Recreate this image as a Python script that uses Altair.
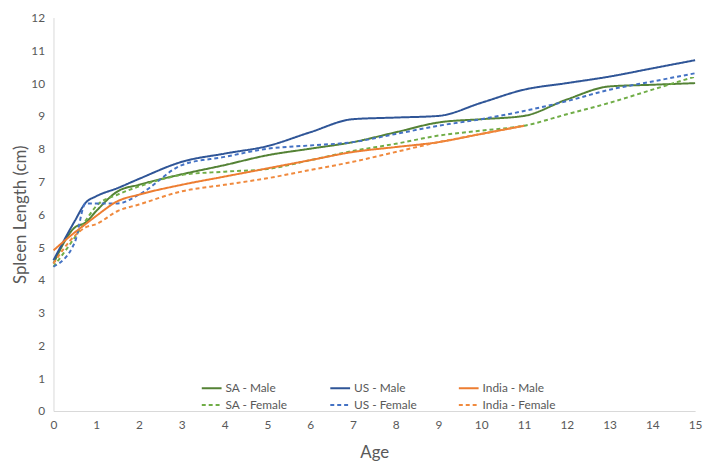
import altair as alt
import pandas as pd

ages = [0, 0.5, 0.75, 1, 1.5, 2, 3, 4, 5, 6, 7, 8, 9, 10, 11, 12, 13, 14, 15]

sa_male = [4.5, 5.6, 5.75, 6.1, 6.7, 6.9, 7.22, 7.5, 7.8, 8.0, 8.2, 8.5, 8.8, 8.9, 9.0, 9.5, 9.9, 9.95, 10.0]
sa_female = [4.4, 5.3, 5.8, 6.25, 6.6, 6.85, 7.2, 7.3, 7.38, 7.65, 7.93, 8.15, 8.4, 8.55, 8.7, 9.05, 9.4, 9.8, 10.2]
us_male = [4.6, 5.8, 6.35, 6.55, 6.8, 7.08, 7.6, 7.85, 8.08, 8.5, 8.9, 8.95, 9.0, 9.4, 9.8, 10.0, 10.2, 10.45, 10.7]
us_female = [4.4, 5.15, 6.33, 6.33, 6.33, 6.6, 7.5, 7.75, 8.0, 8.1, 8.2, 8.45, 8.7, 8.9, 9.15, 9.45, 9.8, 10.05, 10.3]
india_male = [4.9, 5.45, 5.7, 5.95, 6.4, 6.6, 6.9, 7.15, 7.4, 7.65, 7.9, 8.05, 8.2, 8.45, 8.7, None, None, None, None]
india_female = [4.5, 5.35, 5.6, 5.7, 6.1, 6.3, 6.7, 6.9, 7.1, 7.35, 7.6, 7.9, 8.2, 8.45, 8.7, None, None, None, None]

# order chosen so the 3-column legend fills as in the reference
series_names = ["SA - Male", "SA - Female", "US - Male", "US - Female", "India - Male", "India - Female"]
series_vals = [sa_male, sa_female, us_male, us_female, india_male, india_female]
colors = ["#548235", "#70AD47", "#2F5597", "#4472C4", "#ED7D31", "#F08A3E"]
dashes = [[1, 0], [4, 3], [1, 0], [4, 3], [1, 0], [4, 3]]

rows = []
for name, vals in zip(series_names, series_vals):
    for a, v in zip(ages, vals):
        if v is not None:
            rows.append({"Age": a, "Length": v, "Series": name})
df = pd.DataFrame(rows)

font = "Lato"

chart = alt.Chart(df).mark_line(strokeWidth=2, interpolate="monotone").encode(
    x=alt.X("Age:Q", scale=alt.Scale(domain=[0, 15], nice=False),
            axis=alt.Axis(title="Age", values=list(range(16)), labelOverlap=False,
                          labelFlush=False, labelBound=False)),
    y=alt.Y("Length:Q", scale=alt.Scale(domain=[0, 12], nice=False),
            axis=alt.Axis(title="Spleen Length (cm)", values=list(range(13)),
                          labelOverlap=False)),
    color=alt.Color("Series:N", scale=alt.Scale(domain=series_names, range=colors),
                    sort=series_names,
                    legend=alt.Legend(title=None, orient="none", legendX=149, legendY=364,
                                      columns=3, symbolType="stroke", symbolSize=400,
                                      symbolStrokeWidth=2, gridAlign="all",
                                      columnPadding=28, rowPadding=-5,
                                      labelFontSize=12, labelColor="#595959",
                                      labelFont=font, labelOffset=3)),
    strokeDash=alt.StrokeDash("Series:N", scale=alt.Scale(domain=series_names, range=dashes),
                              sort=series_names, legend=None),
    detail="Series:N",
).properties(
    width=649, height=398,
    autosize=alt.AutoSizeParams(type="none"),
    padding={"left": 46, "top": 7, "right": 11, "bottom": 57},
).configure_view(
    stroke=None
).configure_axis(
    grid=False, ticks=False, domainColor="#d9d9d9", domainWidth=1,
    labelColor="#595959", labelFontSize=12, labelFont=font,
    titleColor="#595959", titleFontSize=17, titleFont=font, titleFontWeight="normal",
    labelPadding=9
).configure_axisY(
    titlePadding=1
).configure_axisX(
    titlePadding=14
)

chart.save("out.html", embed_options={"renderer": "svg", "actions": False})
